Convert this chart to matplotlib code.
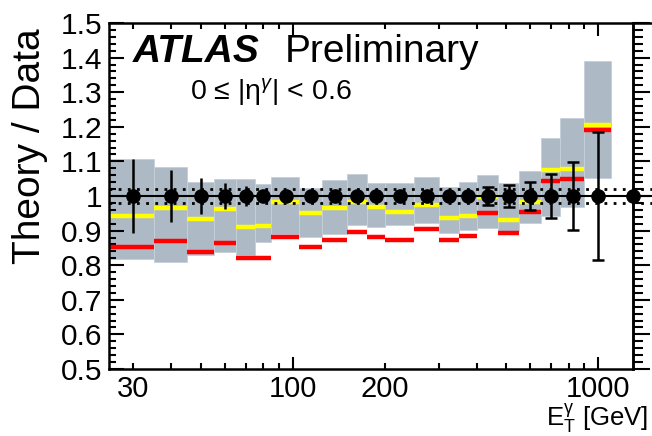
import numpy as np
import matplotlib
matplotlib.use('Agg')
import matplotlib.pyplot as plt
from matplotlib.lines import Line2D
from matplotlib.ticker import FixedLocator, FuncFormatter, MultipleLocator

plt.rcParams['font.family'] = ['Liberation Sans', 'DejaVu Sans']
plt.rcParams['mathtext.fontset'] = 'custom'
plt.rcParams['mathtext.rm'] = 'Liberation Sans'
plt.rcParams['mathtext.it'] = 'Liberation Sans:italic'
plt.rcParams['mathtext.bf'] = 'Liberation Sans:bold'

# E_T bin edges [GeV]
bin_edges = [25, 35, 45, 55, 65, 75, 85, 105, 125, 150, 175, 200, 250,
             300, 350, 400, 470, 550, 650, 750, 900, 1100, 1500]

# theory / data, grey band (total theory uncertainty), up to 1100 GeV
theory_hi = [1.107, 1.084, 1.040, 1.049, 1.049, 1.035, 1.054, 1.024, 1.046, 1.064, 1.038,
             1.037, 1.056, 1.027, 1.041, 1.061, 1.038, 1.073, 1.168, 1.225, 1.390]
theory_lo = [0.818, 0.809, 0.829, 0.838, 0.830, 0.867, 0.890, 0.882, 0.890, 0.916, 0.910,
             0.916, 0.923, 0.893, 0.902, 0.907, 0.900, 0.921, 0.942, 0.969, 1.053]
# central values of the two predictions
yellow_vals = [0.942, 0.965, 0.934, 0.962, 0.910, 0.914, 0.983, 0.951, 0.966, 0.984, 0.969,
               0.955, 0.974, 0.936, 0.943, 0.996, 0.930, 0.984, 1.075, 1.078, 1.205]
red_vals = [0.853, 0.870, 0.838, 0.864, 0.821, 0.821, 0.881, 0.853, 0.873, 0.895, 0.882,
            0.873, 0.904, 0.873, 0.885, 0.950, 0.892, 0.955, 1.044, 1.050, 1.191]

# data / data with its relative uncertainty
data_ratio = [1.0] * 22
data_err = [0.108, 0.075, 0.052, 0.039, 0.028, 0.015, 0.010, 0.010, 0.010, 0.010, 0.010,
            0.012, 0.012, 0.015, 0.018, 0.025, 0.032, 0.040, 0.065, 0.098, 0.185, 0.0]

lumi_unc = 0.02

y_ticks = [0.5, 0.6, 0.7, 0.8, 0.9, 1.0, 1.1, 1.2, 1.3, 1.4, 1.5]
y_tick_labels = ['0.5', '0.6', '0.7', '0.8', '0.9', '1', '1.1', '1.2', '1.3', '1.4', '1.5']
x_major = [100, 1000]
x_minor = [30, 40, 50, 60, 70, 80, 90, 200, 300, 400, 500, 600, 700, 800, 900]
x_tick_labels = {30: '30', 100: '100', 200: '200', 1000: '1000'}

fig = plt.figure(figsize=(6.52, 4.36), dpi=100)
ax = fig.add_axes([109 / 652, 1 - 369 / 436, (633 - 109) / 652, (369 - 23) / 436])

edges = np.array(bin_edges, dtype=float)
lo, hi = edges[:-1], edges[1:]
n_th = len(theory_hi)

# grey uncertainty band
ax.bar(lo[:n_th], np.array(theory_hi) - np.array(theory_lo), width=hi[:n_th] - lo[:n_th],
       bottom=theory_lo, align='edge', color='#adbac5', edgecolor='#c6d0d8',
       linewidth=0.6, zorder=1)
ax.hlines(yellow_vals, lo[:n_th], hi[:n_th], color='#ffff00', lw=3.2, zorder=2)
ax.hlines(red_vals, lo[:n_th], hi[:n_th], color='#ff0000', lw=3.2, zorder=2)

# line at one and luminosity uncertainty
ax.hlines(1.0, 25, 1500, color='k', lw=1.5, zorder=3, clip_on=False)
ax.hlines([1 + lumi_unc, 1 - lumi_unc], 25, 1500, color='k', lw=2.0,
          linestyles=[(0, (1, 2.3))], zorder=3, clip_on=False)

# data points
centers = (lo + hi) / 2
d = np.array(data_ratio)
e = np.array(data_err)
capped = centers >= 400
for mask, cap in [(~capped, 0), (capped, 4)]:
    cont = ax.errorbar(centers[mask], d[mask], yerr=e[mask], fmt='o', color='k', ms=9.5,
                       elinewidth=1.8, capsize=cap, capthick=1.8, zorder=4)
    for art in cont.get_children():
        art.set_clip_on(False)

ax.set_xscale('log')
ax.set_xlim(25, 1300)
ax.set_ylim(0.5, 1.5)

ax.xaxis.set_major_locator(FixedLocator(x_major))
ax.xaxis.set_minor_locator(FixedLocator(x_minor))
lab = FuncFormatter(lambda v, p: x_tick_labels.get(int(round(v)), ''))
ax.xaxis.set_major_formatter(lab)
ax.xaxis.set_minor_formatter(lab)
ax.yaxis.set_major_locator(FixedLocator(y_ticks))
ax.yaxis.set_major_formatter(FuncFormatter(lambda v, p: y_tick_labels[p] if p is not None and p < len(y_tick_labels) else ''))
ax.yaxis.set_minor_locator(MultipleLocator(0.02))

ax.tick_params(axis='x', which='both', direction='in', top=True, bottom=True,
               labelsize=21, pad=4, width=1.5)
ax.tick_params(axis='x', which='major', length=9)
ax.tick_params(axis='x', which='minor', length=4)
ax.tick_params(axis='y', which='both', direction='in', left=True, right=False,
               labelsize=21.5, pad=5, width=1.5)
ax.tick_params(axis='y', which='major', length=11)
ax.tick_params(axis='y', which='minor', length=5)
for s in ax.spines.values():
    s.set_linewidth(1.8)

# right-hand axis with ticks pointing outward
ax_r = ax.secondary_yaxis('right')
ax_r.yaxis.set_major_locator(FixedLocator(y_ticks))
ax_r.yaxis.set_minor_locator(MultipleLocator(0.02))
ax_r.tick_params(which='both', direction='out', labelright=False, width=1.5)
ax_r.tick_params(which='major', length=12)
ax_r.tick_params(which='minor', length=7)
ax_r.spines['right'].set_linewidth(1.8)
fig.add_artist(Line2D([633 / 652, 1.0], [1 - 23 / 436] * 2, color='k', lw=1.8))

# labels
fig.text(133 / 652, 1 - 62 / 436, 'ATLAS', fontsize=28, fontweight='bold', fontstyle='italic')
fig.text(285 / 652, 1 - 62 / 436, 'Preliminary', fontsize=28)
fig.text(190 / 652, 1 - 100 / 436, r'0 ≤ |η$^{\gamma}$| < 0.6', fontsize=20.5)
fig.text(648 / 652, 1 - 435 / 436, r'$\mathregular{E_{T}^{\gamma}}$ [GeV]', fontsize=18.5,
         ha='right', va='bottom')
fig.text(30 / 652, 1 - 28 / 436, 'Theory / Data', rotation=90, fontsize=28,
         ha='center', va='top')

fig.savefig('out.png', dpi=100)
